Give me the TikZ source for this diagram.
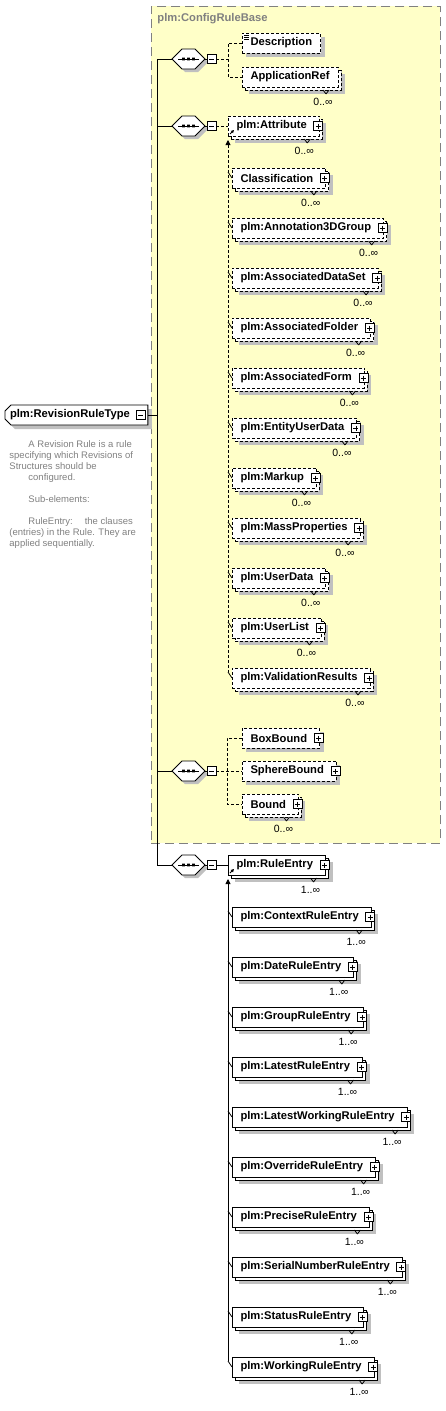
\documentclass[tikz,border=0pt]{standalone}
\usepackage{fontspec}
\setmainfont{Liberation Sans}
\usepackage{xcolor}
\usepackage{tikz}
\usetikzlibrary{arrows.meta,positioning,shadows,shapes.misc}
\definecolor{basefill}{HTML}{FFFFC8}
\definecolor{basedash}{HTML}{808080}
\definecolor{shadowgray}{HTML}{C0C0C0}
\definecolor{docgray}{HTML}{808080}

\begin{document}
\begin{tikzpicture}[
  x=1pt,
  y=-1pt,
  line width=0.9pt,
  elem/.style={
    draw,
    fill=white,
    font=\fontsize{11.2}{13}\selectfont\bfseries,
    anchor=west,
    minimum height=20pt,
    inner xsep=8.5pt,
    inner ysep=0pt,
    outer sep=0pt,
    general shadow={shadow xshift=4pt,shadow yshift=-4pt,fill=shadowgray}
  },
  opt/.style={dash pattern=on 3pt off 2pt},
  multi/.style={
    general shadow={shadow xshift=7pt,shadow yshift=-7pt,fill=shadowgray},
    general shadow={shadow xshift=3pt,shadow yshift=-3pt,draw,fill=white},
    append after command={
      ([xshift=-15pt,yshift=-3pt]\tikzlastnode.south east) edge[notch] ([xshift=-12pt,yshift=-7pt]\tikzlastnode.south east)
      ([xshift=-12pt,yshift=-7pt]\tikzlastnode.south east) edge[notch] ([xshift=-9pt,yshift=-3pt]\tikzlastnode.south east)
    },
    label={[card,anchor=north east,xshift=-5pt,yshift=-11pt]south east:#1}
  },
  expand/.style={
    execute at end node={\hspace*{4pt}},
    label={[plusbox,anchor=center,xshift=-1pt]east:}
  },
  member/.style={
    append after command={(\tikzlastnode.west) edge[tick] ++(-4pt,6pt)}
  },
  textmark/.style={
    path picture={
      \draw[solid,line width=0.6pt] ([shift={(2pt,-2pt)}]path picture bounding box.north west) -- ++(5pt,0pt)
        ([shift={(2pt,-4pt)}]path picture bounding box.north west) -- ++(5pt,0pt)
        ([shift={(2pt,-6pt)}]path picture bounding box.north west) -- ++(5pt,0pt);
    }
  },
  plusbox/.style={
    draw,
    solid,
    fill=white,
    line width=0.8pt,
    minimum size=9pt,
    inner sep=0pt,
    path picture={
      \draw[line width=0.8pt] ([xshift=2pt]path picture bounding box.west) -- ([xshift=-2pt]path picture bounding box.east)
        ([yshift=-2pt]path picture bounding box.north) -- ([yshift=2pt]path picture bounding box.south);
    }
  },
  minusbox/.style={
    draw,
    solid,
    fill=white,
    line width=0.8pt,
    minimum size=9pt,
    inner sep=0pt,
    outer sep=0pt,
    path picture={
      \draw[line width=0.8pt] ([xshift=2pt]path picture bounding box.west) -- ([xshift=-2pt]path picture bounding box.east);
    }
  },
  seq/.style={
    draw,
    fill=white,
    chamfered rectangle,
    chamfered rectangle xsep=5pt,
    chamfered rectangle ysep=5pt,
    text width=23pt,
    text height=5pt,
    text depth=5pt,
    inner sep=0pt,
    outer sep=0pt,
    general shadow={shadow xshift=3pt,shadow yshift=-3pt,fill=shadowgray},
    path picture={
      \draw[black] ([xshift=6pt]path picture bounding box.west) -- ([xshift=-6pt]path picture bounding box.east);
      \fill[black] ([xshift=-5pt]path picture bounding box.center) +(-1.3pt,-1.3pt) rectangle +(1.3pt,1.3pt)
        (path picture bounding box.center) +(-1.3pt,-1.3pt) rectangle +(1.3pt,1.3pt)
        ([xshift=5pt]path picture bounding box.center) +(-1.3pt,-1.3pt) rectangle +(1.3pt,1.3pt);
    }
  },
  root/.style={
    draw,
    fill=white,
    chamfered rectangle,
    chamfered rectangle corners={north west,south west},
    chamfered rectangle xsep=3pt,
    chamfered rectangle ysep=3pt,
    font=\fontsize{11.2}{13}\selectfont\bfseries,
    anchor=west,
    text height=8pt,
    text depth=2.5pt,
    inner xsep=2pt,
    inner ysep=1.75pt,
    outer sep=0pt,
    general shadow={shadow xshift=4pt,shadow yshift=-4pt,fill=shadowgray},
    execute at end node={\hspace*{13pt}},
    label={[minusbox,anchor=center,xshift=-7pt]east:}
  },
  basebox/.style={
    draw=basedash,
    fill=basefill,
    dash pattern=on 9pt off 5pt,
    anchor=north west,
    minimum width=289pt,
    minimum height=837pt,
    inner sep=0pt
  },
  basename/.style={font=\fontsize{11.2}{13}\selectfont\bfseries,text=basedash,anchor=west,inner sep=0pt},
  card/.style={font=\fontsize{10.5}{12}\selectfont,inner sep=0pt},
  doc/.style={font=\fontsize{9.5}{11}\selectfont,text=docgray,align=left,anchor=north west,inner sep=0pt},
  notch/.style={draw,solid,line width=0.8pt},
  tick/.style={draw,solid,line width=0.8pt},
  conn/.style={draw,line width=0.9pt},
  optconn/.style={conn,dash pattern=on 3pt off 2pt},
  subst/.style={{Triangle[length=5pt,width=5pt]}-},
  refarrow/.style={-{Triangle[length=3pt,width=3pt]},line width=0.9pt}
]
\useasboundingbox (0,0) rectangle (445,1411);

% Base type area
\node[basebox] (base) at (151,6) {};
\node[basename] (basetitle) at (157,19) {plm:ConfigRuleBase};

% Root element and its documentation
\node[root] (root) at (5,415) {plm:RevisionRuleType};
\node[doc] (rootdoc) at (9,440) {\hspace*{19pt}A Revision Rule is a rule\\
specifying which Revisions of\\
Structures should be\\
\hspace*{19pt}configured.\\[11pt]
\hspace*{19pt}Sub-elements:\\[11pt]
\hspace*{19pt}RuleEntry:\hspace*{12pt}the clauses\\
(entries) in the Rule. They are\\
applied sequentially.};

% Sequences
\coordinate (trunk) at (157,0);
\node[seq] (seqA) at (188.5,59) {};
\node[minusbox,right=2pt of seqA] (seqAm) {};
\node[seq] (seqB) at (188.5,126) {};
\node[minusbox,right=2pt of seqB] (seqBm) {};
\node[seq] (seqC) at (188.5,771) {};
\node[minusbox,right=2pt of seqC] (seqCm) {};
\node[seq] (seqD) at (188.5,865) {};
\node[minusbox,right=2pt of seqD] (seqDm) {};

% 1. Description / ApplicationRef
\node[elem,opt,textmark] (desc) at (242,43) {Description};
\node[elem,opt,multi=0..∞,below=14pt of desc.south west,anchor=north west] (appref) {ApplicationRef};

% 2. Attribute and its substitution group
\node[elem,opt,multi=0..∞,expand] (attr) at (228,126) {plm:Attribute};
\node[elem,opt,multi=0..∞,expand,member] (classif) at (232,178) {Classification};
\node[elem,opt,multi=0..∞,expand,member,below=30pt of classif.south west,anchor=north west] (annot) {plm:Annotation3DGroup};
\node[elem,opt,multi=0..∞,expand,member,below=30pt of annot.south west,anchor=north west] (dataset) {plm:AssociatedDataSet};
\node[elem,opt,multi=0..∞,expand,member,below=30pt of dataset.south west,anchor=north west] (folder) {plm:AssociatedFolder};
\node[elem,opt,multi=0..∞,expand,member,below=30pt of folder.south west,anchor=north west] (form) {plm:AssociatedForm};
\node[elem,opt,multi=0..∞,expand,member,below=30pt of form.south west,anchor=north west] (entity) {plm:EntityUserData};
\node[elem,opt,multi=0..∞,expand,member,below=30pt of entity.south west,anchor=north west] (markup) {plm:Markup};
\node[elem,opt,multi=0..∞,expand,member,below=30pt of markup.south west,anchor=north west] (massprop) {plm:MassProperties};
\node[elem,opt,multi=0..∞,expand,member,below=30pt of massprop.south west,anchor=north west] (userdata) {plm:UserData};
\node[elem,opt,multi=0..∞,expand,member,below=30pt of userdata.south west,anchor=north west] (userlist) {plm:UserList};
\node[elem,opt,multi=0..∞,expand,member,below=30pt of userlist.south west,anchor=north west] (valres) {plm:ValidationResults};

% 3. Bounds
\node[elem,opt,expand] (boxbound) at (242,738) {BoxBound};
\node[elem,opt,expand,below=13pt of boxbound.south west,anchor=north west] (spherebound) {SphereBound};
\node[elem,opt,multi=0..∞,expand,below=13pt of spherebound.south west,anchor=north west] (bound) {Bound};

% 4. RuleEntry and its substitution group
\node[elem,multi=1..∞,expand] (ruleentry) at (228,865) {plm:RuleEntry};
\node[elem,multi=1..∞,expand,member] (contextrule) at (232,917) {plm:ContextRuleEntry};
\node[elem,multi=1..∞,expand,member,below=30pt of contextrule.south west,anchor=north west] (daterule) {plm:DateRuleEntry};
\node[elem,multi=1..∞,expand,member,below=30pt of daterule.south west,anchor=north west] (grouprule) {plm:GroupRuleEntry};
\node[elem,multi=1..∞,expand,member,below=30pt of grouprule.south west,anchor=north west] (latestrule) {plm:LatestRuleEntry};
\node[elem,multi=1..∞,expand,member,below=30pt of latestrule.south west,anchor=north west] (latestworkrule) {plm:LatestWorkingRuleEntry};
\node[elem,multi=1..∞,expand,member,below=30pt of latestworkrule.south west,anchor=north west] (overriderule) {plm:OverrideRuleEntry};
\node[elem,multi=1..∞,expand,member,below=30pt of overriderule.south west,anchor=north west] (preciserule) {plm:PreciseRuleEntry};
\node[elem,multi=1..∞,expand,member,below=30pt of preciserule.south west,anchor=north west] (serialrule) {plm:SerialNumberRuleEntry};
\node[elem,multi=1..∞,expand,member,below=30pt of serialrule.south west,anchor=north west] (statusrule) {plm:StatusRuleEntry};
\node[elem,multi=1..∞,expand,member,below=30pt of statusrule.south west,anchor=north west] (workingrule) {plm:WorkingRuleEntry};

% Connections
\draw[conn] (root.east) -- (root.east -| trunk);
\draw[conn] (seqA.west) -- (seqA.west -| trunk) -- (seqD.west -| trunk) -- (seqD.west);
\draw[conn] (seqB.west) -- (seqB.west -| trunk);
\draw[conn] (seqC.west) -- (seqC.west -| trunk);
\draw[conn] (seqA) -- (seqAm);
\draw[conn] (seqB) -- (seqBm);
\draw[conn] (seqC) -- (seqCm);
\draw[conn] (seqD) -- (seqDm);

\coordinate (brA) at (228,0);
\coordinate (brC) at (227,0);
\draw[optconn] (seqAm.east) -- (seqAm.east -| brA);
\draw[optconn] (desc.west) -- (desc.west -| brA) -- (appref.west -| brA) -- (appref.west);
\draw[optconn] (seqBm.east) -- (attr.west);
\draw[optconn] (seqCm.east) -- (spherebound.west);
\draw[optconn] (boxbound.west) -- (boxbound.west -| brC) -- (bound.west -| brC) -- (bound.west);
\draw[conn] (seqDm.east) -- (ruleentry.west);

% Substitution groups
\draw[optconn,subst] ([yshift=-4pt]attr.south west) -- ([shift={(-4,-6)}]valres.west);
\draw[conn,subst] ([yshift=-4pt]ruleentry.south west) -- ([shift={(-4,-6)}]workingrule.west);
\draw[refarrow] ([shift={(2,-2)}]attr.south west) -- ++(4,-4);
\draw[refarrow] ([shift={(2,-2)}]ruleentry.south west) -- ++(4,-4);

\end{tikzpicture}
\end{document}
